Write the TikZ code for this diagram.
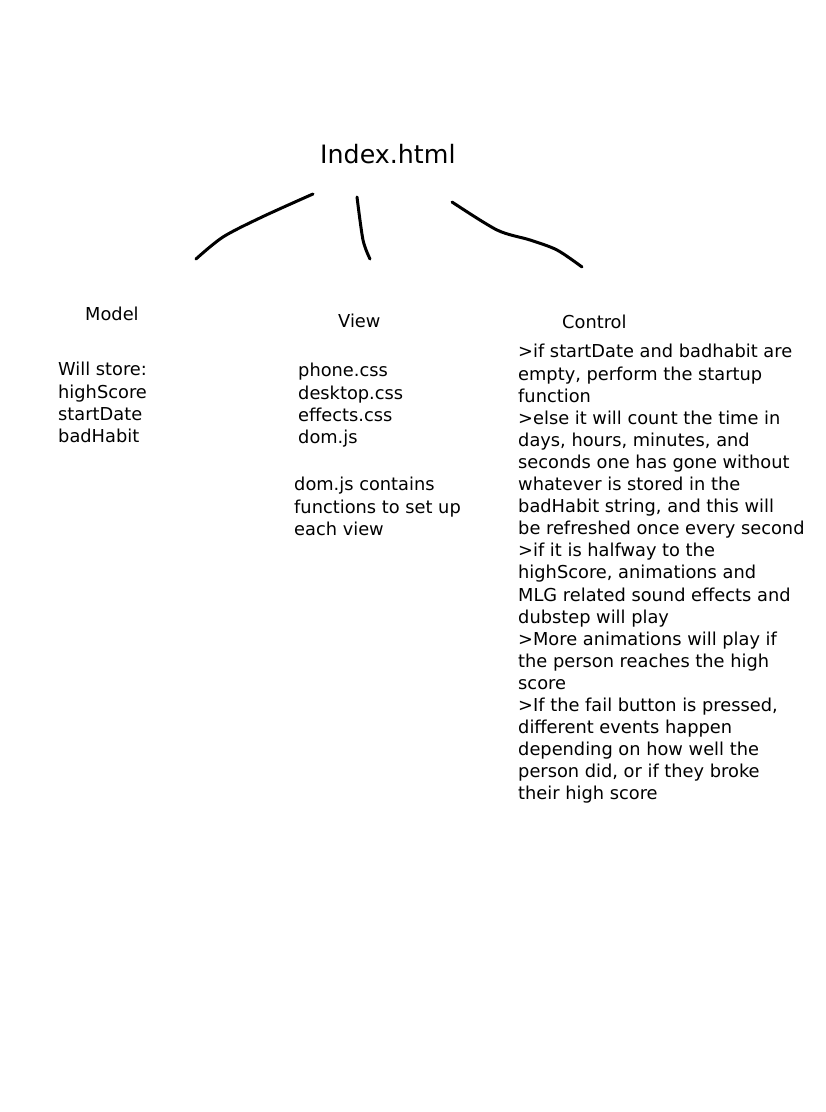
\documentclass[tikz,border=0pt]{standalone}
\usepackage{fontspec}
\setmainfont{DejaVu Sans}
\begin{document}
\begin{tikzpicture}[x=1pt,y=1pt,
  body/.style={anchor=base west,inner sep=0pt,font=\fontsize{17.8}{22.1}\selectfont},
  title/.style={anchor=base west,inner sep=0pt,font=\fontsize{25.3}{30}\selectfont},
  stroke/.style={line width=3pt,line cap=round,line join=round}]
\useasboundingbox[fill=white] (0,0) rectangle (826,1112);
\node[title] (index) at (320,948) {Index.html};
\node[body] (model) at (85,791) {Model};
\node[body] (modeltext) at (58,736) {\begin{tabular}[t]{@{}l@{}}Will store:\\ highScore\\ startDate\\ badHabit\end{tabular}};
\node[body] (view) at (338,784) {View};
\node[body] (viewfiles) at (298,735) {\begin{tabular}[t]{@{}l@{}}phone.css\\ desktop.css\\ effects.css\\ dom.js\end{tabular}};
\node[body] (viewtext) at (294,621) {\begin{tabular}[t]{@{}l@{}}dom.js contains\\ functions to set up\\ each view\end{tabular}};
\node[body] (control) at (562,783) {Control};
\node[body] (controltext) at (518,754) {\begin{tabular}[t]{@{}l@{}}%
>if startDate and badhabit are\\
empty, perform the startup\\
function\\
>else it will count the time in\\
days, hours, minutes, and\\
seconds one has gone without\\
whatever is stored in the\\
badHabit string, and this will\\
be refreshed once every second\\
>if it is halfway to the\\
highScore, animations and\\
MLG related sound effects and\\
dubstep will play\\
>More animations will play if\\
the person reaches the high\\
score\\
>If the fail button is pressed,\\
different events happen\\
depending on how well the\\
person did, or if they broke\\
their high score\end{tabular}};
\coordinate (ls) at (313,918);
\coordinate (le) at (196,853);
\coordinate (ms) at (357,915);
\coordinate (me) at (370,853);
\coordinate (rs) at (452,910);
\coordinate (re) at (582,845);
\draw[stroke] plot[smooth] coordinates {(ls) (262,895) (223,875) (le)};
\draw[stroke] plot[smooth] coordinates {(ms) (363,872) (me)};
\draw[stroke] plot[smooth] coordinates {(rs) (497,882) (530,872) (557,862) (re)};
\end{tikzpicture}
\end{document}
